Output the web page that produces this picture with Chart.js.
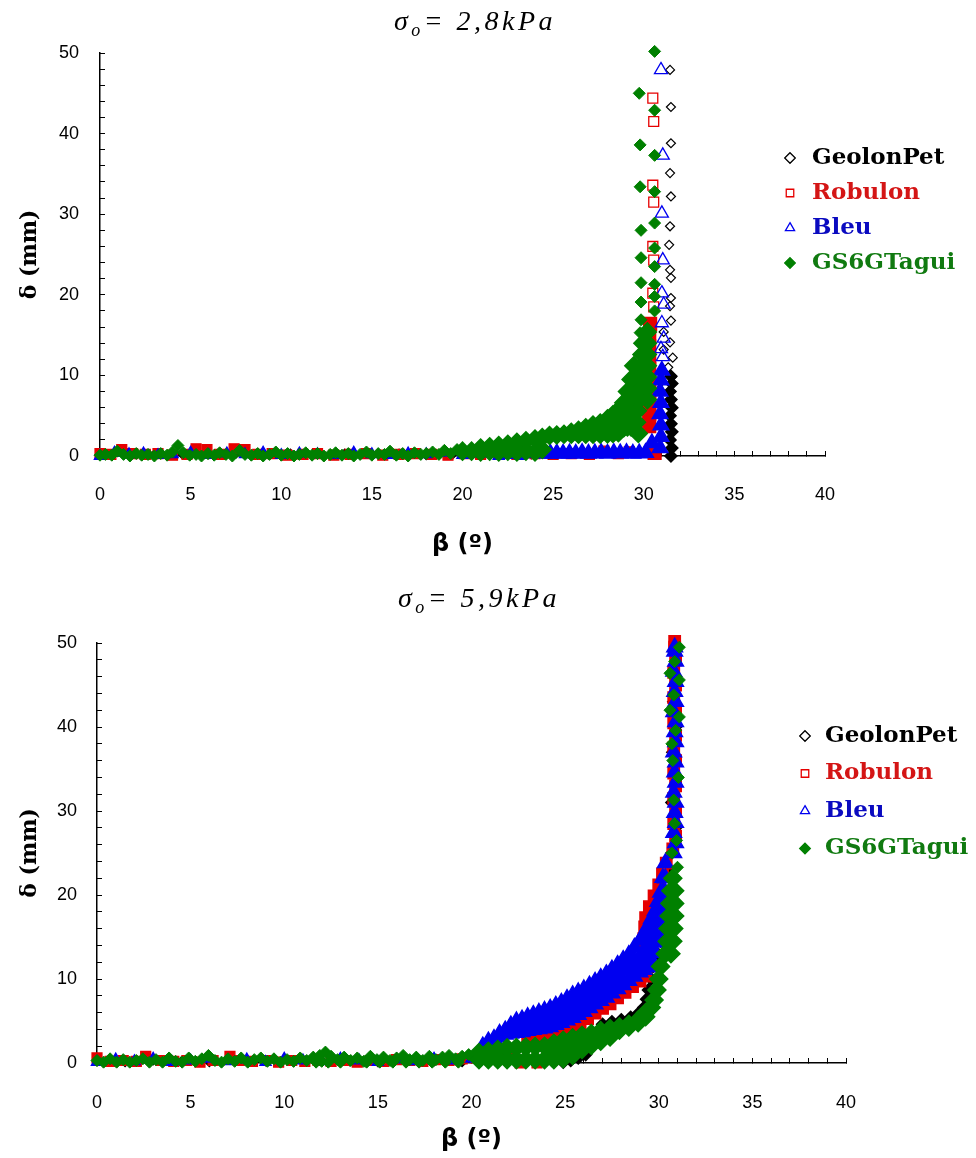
<!DOCTYPE html>
<html>
<head>
<meta charset="utf-8">
<title>delta vs beta</title>
<script src="https://cdn.jsdelivr.net/npm/chart.js@4.4.1/dist/chart.umd.min.js"></script>
<style>
  html, body { margin:0; padding:0; background:#ffffff; }
  body { position:relative; width:976px; height:1158px; overflow:hidden; }
  canvas { position:absolute; left:0; }
  .ttl { position:absolute; left:0; z-index:2; white-space:nowrap; text-align:center; color:#000;
         font-family:'Liberation Serif','Times New Roman',serif; font-style:italic; font-size:28px;
         line-height:28px; letter-spacing:3.5px; }
  .ttl sub { font-size:18px; line-height:0; vertical-align:-6px; }
</style>
</head>
<body>
<canvas id="chartTop" width="976" height="580" style="top:0"></canvas>
<canvas id="chartBottom" width="976" height="578" style="top:580px"></canvas>
<div class="ttl" style="top:7px; width:950px;">σ<sub>o</sub>= 2,8kPa</div>
<div class="ttl" style="top:584px; width:958px;">σ<sub>o</sub>= 5,9kPa</div>
<script>
// ---------------- tick labels / series ----------------
const betaTickLabels = [0, 5, 10, 15, 20, 25, 30, 35, 40];
const deltaTickLabels = [0, 10, 20, 30, 40, 50];
const seriesNames = ['GeolonPet', 'Robulon', 'Bleu', 'GS6GTagui'];

// ---------------- sigma = 2.8 kPa : [beta, delta] ----------------
const geolonTopBase = [[0,0.1],[1.5,0.3],[3,0.2],[4.5,0.3],[6,0.2],[7.5,0.3],[9,0.1],[10.5,0.3],[12,0.2],[13.5,0.3],[15,0.2],[16.5,0.3],[18,0.1],[19.5,0.3],[21,0.2],[22.5,0.3],[23.8,0.2]];
const geolonTopDense = [[31.5,0.0],[31.55,1.0],[31.45,2.0],[31.55,3.0],[31.5,4.0],[31.45,5.0],[31.55,6.0],[31.5,7.0],[31.45,8.0],[31.55,9.0],[31.5,9.9]];
const geolonTopOpen = [[31.2,8.6],[31.55,9.8],[31.35,11.0],[31.6,12.2],[31.1,13.2],[31.45,14.1],[31.1,15.4],[31.5,16.8],[31.45,18.6],[31.5,19.6],[31.5,22.1],[31.45,23.1],[31.4,26.2],[31.45,28.5],[31.5,32.2],[31.45,35.1],[31.5,38.8],[31.5,43.3],[31.45,47.9]];

const robulonTopBase = [[0,0.3],[0.6,0.2],[1.2,0.8],[1.8,0.3],[2.5,0.2],[3.2,0.3],[4.0,0.1],[4.8,0.2],[5.3,0.9],[5.9,0.8],[6.6,0.2],[7.4,0.9],[8.0,0.8],[8.7,0.2],[9.5,0.3],[10.3,0.1],[11.2,0.2],[12.0,0.3],[12.9,0.1],[13.8,0.2],[14.7,0.3],[15.6,0.1],[16.5,0.2],[17.4,0.3],[18.3,0.2],[19.2,0.1],[20.1,0.3],[21.0,0.2],[22.0,0.3],[23.0,0.2],[24.0,0.3],[25.0,0.2],[26.0,0.3],[27.0,0.2],[27.8,0.6],[28.6,0.3],[29.2,0.5]];
const robulonTopDense = [[30.6,0.4],[30.3,3.7],[30.3,5.2],[30.3,6.6],[30.3,8.0],[30.3,9.4],[30.3,10.8],[30.3,12.2],[30.3,13.6],[30.3,15.0],[30.35,16.4]];
const robulonTopOpen = [[30.55,18.5],[30.5,20.2],[30.55,24.3],[30.5,26.0],[30.55,31.5],[30.5,33.6],[30.55,41.5],[30.5,44.4]];

const bleuTopBase = [[0,0.0],[0.8,0.4],[1.6,0.2],[2.4,0.3],[3.2,0.1],[4.0,0.2],[5.0,0.4],[6.0,0.1],[7.0,0.3],[8.0,0.2],[9.0,0.4],[10.0,0.1],[11.0,0.3],[12.0,0.2],[13.0,0.1],[14.0,0.4],[15.0,0.2],[16.0,0.1],[17.0,0.3],[18.0,0.2],[19.0,0.4],[20.0,0.1],[21.0,0.3],[22.0,0.0],[22.6,0.1],[23.2,0.0],[23.8,0.2]];
const bleuTopDense = [[24.5,0.3],[24.85,0.3],[25.2,0.35],[25.55,0.3],[25.9,0.35],[26.25,0.3],[26.6,0.4],[26.95,0.3],[27.3,0.35],[27.65,0.4],[28.0,0.3],[28.35,0.4],[28.7,0.35],[29.05,0.4],[29.4,0.3],[29.75,0.35],[30.1,0.4],
  [30.45,1.6],[30.9,1.0],[30.95,2.4],[30.95,3.8],[30.9,5.2],[30.95,6.6],[30.9,8.0],[30.95,9.4],[31.0,10.6]];
const bleuTopOpen = [[31.05,12.3],[30.95,13.3],[31.1,14.6],[31.0,16.5],[31.1,18.8],[31.0,20.2],[31.05,24.3],[31.0,30.1],[31.05,37.3],[30.95,47.9]];

const gs6TopBase = [[0,0.1],[0.3,0.2],[0.65,0.1],[0.95,0.6],[1.3,0.2],[1.65,0.0],[2.0,0.3],[2.3,0.1],[2.65,0.2],[3.0,0.0],[3.35,0.3],[3.7,0.1],[4.0,0.5],[4.3,1.3],[4.6,0.4],[4.95,0.1],[5.3,0.2],[5.6,0.0],[5.95,0.3],[6.3,0.1],[6.6,0.4],[6.95,0.2],[7.3,0.0],[7.7,0.7],[8.0,0.2],[8.35,0.1],[8.7,0.3],[9.0,0.0],[9.35,0.2],[9.7,0.5],[10.0,0.1],[10.35,0.3],[10.7,0.0],[11.0,0.2],[11.35,0.4],[11.7,0.1],[12.0,0.3],[12.35,0.0],[12.7,0.2],[13.0,0.4],[13.35,0.1],[13.7,0.3],[14.0,0.0],[14.35,0.2],[14.7,0.5],[15.0,0.1],[15.35,0.3],[15.7,0.2],[16.0,0.6],[16.35,0.1],[16.7,0.3],[17.0,0.0],[17.35,0.4],[17.7,0.2],[18.0,0.3],[18.35,0.5],[18.7,0.2],[19.0,0.7],[19.35,0.3],[19.7,0.8]];
const gs6TopDense = [[20.0,0.6],[20.5,0.6],[21.0,0.5],[21.0,1.0],[21.5,0.6],[21.5,1.15],[22.0,0.5],[22.0,1.3],[22.5,0.6],[22.5,1.45],[23.0,0.5],[23.0,1.7],[23.5,0.6],[23.5,1.9],[24.0,0.5],[24.0,2.1],[24.4,0.8],[24.4,2.3],
  [24.8,2.55],[25.2,2.6],[25.6,2.7],[26.0,2.7],[26.0,2.95],[26.4,2.7],[26.4,3.2],[26.8,2.7],[26.8,3.5],[27.2,2.7],[27.2,3.35],[27.2,3.85],[27.6,2.7],[27.6,3.4],[27.6,4.1],[28.0,2.75],[28.0,3.8],[28.0,4.6],[28.3,2.8],[28.3,4.0],[28.3,5.1],[28.6,2.9],[28.6,4.3],[28.6,5.7],[28.9,3.5],[28.9,5.0],[28.9,6.6],[29.1,3.6],[29.1,5.2],[29.1,6.8],[29.1,8.0],[29.3,3.6],[29.3,5.5],[29.3,7.5],[29.3,9.5],[29.45,11.2],
  [29.7,2.8],[29.6,4.2],[29.65,5.6],[29.75,7.0],[30.2,7.0],[29.8,8.4],[30.2,8.4],[29.85,9.8],[30.2,9.8],[29.9,11.2],[30.2,11.2],[29.9,12.6],[30.2,12.6],[29.95,14.0],[30.2,14.0],[30.2,15.4]];
const gs6TopTail = [[29.8,15.3],[29.85,16.9],[30.6,18.0],[29.85,19.1],[30.6,19.8],[29.85,21.5],[30.6,21.3],[30.6,23.5],[29.85,24.6],[30.6,25.8],[29.85,28.0],[30.6,28.9],[30.6,32.8],[29.8,33.4],[30.6,37.3],[29.8,38.6],[30.6,42.9],[29.75,45.0],[30.6,50.2]];

// ---------------- sigma = 5.9 kPa : [beta, delta] ----------------
const geolonBotBase = [[0,0.2],[1.5,0.1],[3,0.3],[4.5,0.2],[6,0.1],[7.5,0.3],[9,0.2],[10.5,0.1],[12,0.3],[13.5,0.2],[15,0.1],[16.5,0.3],[18,0.2],[19.5,0.1],[21,0.3],[22.5,0.2],[23.5,0.1],[24.3,0.1]];
const geolonBotDense = [[24.9,0.1],[25.3,0.3],[25.7,0.6],[26.1,1.0],[26.6,2.6],[27.0,4.6],[27.5,4.9],[28.0,5.15],[28.5,5.45],[28.9,5.9],[29.2,6.6],[29.35,7.6],[29.45,8.7],[29.6,10.0],[29.7,11.5],[29.95,13.0],[30.1,14.5],[30.2,16.0],[30.4,19.0],[30.6,22.5],[30.7,25],[30.9,28],[30.7,31],[30.9,34],[30.75,37],[30.9,40],[30.8,43],[30.9,46],[30.8,49]];

const robulonBotBase = [[0,0.6],[0.7,0.2],[1.4,0.3],[2.1,0.2],[2.6,0.8],[3.4,0.3],[4.1,0.2],[4.8,0.3],[5.5,0.1],[6.2,0.3],[7.1,0.8],[7.6,0.3],[8.3,0.2],[9.0,0.3],[9.7,0.1],[10.4,0.3],[11.1,0.2],[11.8,0.3],[12.5,0.2],[13.2,0.3],[13.9,0.1],[14.6,0.3],[15.3,0.2],[16.0,0.4],[16.7,0.3],[17.4,0.2],[18.1,0.4],[18.8,0.3],[19.5,0.5],[20.2,0.6],[20.9,0.9],[21.6,1.2],[22.2,1.5],[22.6,0.0],[23.5,0.0]];
const robulonBotDense = [[23.0,2.8],[23.4,2.95],[23.8,3.1],[24.2,3.25],[24.6,3.55],[25.0,3.95],[25.4,4.35],[25.8,4.8],[26.2,5.3],[26.6,5.95],[27.0,6.5],[27.4,7.05],[27.8,7.75],[28.2,8.4],[28.6,9.1],[29.0,9.75],[29.3,10.35],
  [29.3,11.8],[29.25,13.3],[29.2,14.8],[29.25,16.2],[29.3,17.3],[29.5,18.6],[29.75,19.9],[30.0,21.2],[30.2,22.5],[30.4,23.8],
  [30.75,25.5],[30.9,27.0],[30.8,28.5],[30.9,30.0],[30.8,31.5],[30.9,33.0],[30.8,34.5],[30.9,36.0],[30.8,37.5],[30.9,39.0],[30.8,40.5],[30.9,42.0],[30.8,43.5],[30.9,45.0],[30.8,46.5],[30.9,48.0],[30.85,49.5],[30.85,50.2]];

const bleuBotBase = [[0,0.1],[1,0.4],[2,0.2],[3,0.5],[4,0.1],[5,0.3],[6,0.5],[7,0.2],[8,0.4],[9,0.1],[10,0.5],[11,0.3],[12,0.2],[13,0.5],[14,0.3],[15,0.1],[16,0.4],[17,0.2],[18,0.5],[19,0.3],[20,0.5]];
const bleuBotDense = [[20.6,2.0],[20.9,2.3],[20.9,2.6],[21.2,2.9],[21.5,3.1],[21.5,3.5],[21.8,3.4],[21.8,3.9],[22.1,3.5],[22.1,4.2],[22.1,4.5],[22.4,3.6],[22.4,5.0],[22.7,3.7],[22.7,4.4],[22.7,5.2],
  [23.0,3.85],[23.0,4.7],[23.0,5.5],[23.3,3.95],[23.3,4.6],[23.3,5.3],[23.3,5.75],[23.6,4.05],[23.6,5.0],[23.6,6.0],[23.9,4.15],[23.9,4.75],[23.9,5.5],[23.9,6.25],
  [24.2,4.3],[24.2,5.4],[24.2,6.5],[24.5,4.55],[24.5,5.15],[24.5,5.95],[24.5,6.85],[24.8,4.8],[24.8,6.0],[24.8,7.2],[25.1,5.1],[25.1,5.7],[25.1,6.6],[25.1,7.65],
  [25.4,5.4],[25.4,6.75],[25.4,8.1],[25.7,5.75],[25.7,6.4],[25.7,7.3],[25.7,8.45],[26.0,6.1],[26.0,7.45],[26.0,8.8],[26.3,6.55],[26.3,7.1],[26.3,8.1],[26.3,9.25],
  [26.6,7.0],[26.6,8.35],[26.6,9.7],[26.9,7.4],[26.9,8.0],[26.9,9.0],[26.9,10.15],[27.2,7.8],[27.2,9.2],[27.2,10.6],[27.5,8.3],[27.5,8.9],[27.5,9.95],[27.5,11.15],
  [27.8,8.8],[27.8,10.25],[27.8,11.7],[28.1,9.3],[28.1,9.95],[28.1,11.05],[28.1,12.3],[28.4,9.8],[28.4,11.35],[28.4,12.9],[28.7,10.3],[28.7,11.0],[28.7,12.3],[28.7,13.75],
  [29.0,10.8],[29.0,12.7],[29.0,14.6],[29.2,11.1],[29.2,11.85],[29.2,13.35],[29.2,15.4],[29.4,11.4],[29.4,13.0],[29.4,14.6],[29.4,16.2],[29.6,12.25],[29.6,13.9],[29.6,15.5],[29.6,17.15],
  [29.8,13.1],[29.8,14.8],[29.8,16.5],[29.8,18.1],[29.95,14.35],[29.95,16.0],[29.95,17.6],[29.95,19.2],[30.1,15.6],[30.1,17.2],[30.1,18.8],[30.1,20.3],
  [30.22,17.1],[30.22,18.75],[30.22,20.4],[30.22,22.05],[30.35,18.6],[30.35,20.3],[30.35,22.0],[30.35,23.8],
  [30.8,25.0],[30.9,26.2],[30.8,27.4],[30.9,28.6],[30.85,29.8],[30.9,31.0],[30.8,32.2],[30.9,33.4],[30.85,34.6],[30.9,35.8],[30.8,37.0],[30.9,38.2],[30.85,39.4],[30.9,40.6],[30.8,41.8],[30.9,43.0],[30.85,44.2],[30.9,45.4],[30.8,46.6],[30.9,47.8],[30.85,49.0],[30.85,49.5]];

const gs6BotBase = [[0,0.3],[0.35,0.1],[0.7,0.5],[1.05,0.1],[1.4,0.4],[1.75,0.1],[2.1,0.3],[2.45,0.5],[2.8,0.1],[3.15,0.4],[3.5,0.1],[3.85,0.6],[4.2,0.2],[4.55,0.1],[4.9,0.6],[5.25,0.2],[5.6,0.5],[5.95,0.9],[6.3,0.3],[6.65,0.1],[7.0,0.5],[7.35,0.2],[7.7,0.6],[8.05,0.1],[8.4,0.4],[8.75,0.6],[9.1,0.2],[9.45,0.5],[9.8,0.1],[10.15,0.4],[10.5,0.2],[10.85,0.6],[11.2,0.3],[11.55,0.7],[11.7,0.1],[11.9,0.9],[12.0,0.2],[12.2,1.3],[12.35,0.1],[12.5,0.8],[12.85,0.4],[13.0,0.1],[13.2,0.7],[13.55,0.3],[13.9,0.6],[14.25,0.2],[14.4,0.1],[14.6,0.8],[14.95,0.4],[15.1,0.1],[15.3,0.7],[15.65,0.3],[15.8,0.1],[16.0,0.6],[16.35,0.9],[16.5,0.1],[16.7,0.4],[17.05,0.7],[17.2,0.1],[17.4,0.3],[17.75,0.8],[17.9,0.1],[18.1,0.4],[18.45,0.7],[18.6,0.1],[18.8,0.9],[19.15,0.5],[19.3,0.1],[19.5,0.8],[19.85,1.0]];
const gs6BotDense = [[20.4,0.4],[20.4,1.25],[20.9,0.4],[20.9,1.4],[21.4,0.4],[21.4,1.6],[21.9,0.4],[21.9,1.8],[22.4,0.4],[22.4,1.85],[22.9,0.4],[22.9,1.9],[23.4,0.4],[23.4,1.95],[23.9,0.4],[23.9,2.0],
  [24.4,0.4],[24.4,1.4],[24.4,2.35],[24.9,0.5],[24.9,1.6],[24.9,2.7],[25.4,0.9],[25.4,2.0],[25.4,3.0],[25.9,1.6],[25.9,2.5],[25.9,3.3],[26.4,2.1],[26.4,3.0],[26.4,3.5],[26.9,2.6],[26.9,3.3],[26.9,3.85],
  [27.4,3.1],[27.4,3.7],[27.4,4.1],[27.9,3.9],[27.9,4.3],[28.4,4.3],[28.4,4.6],[28.9,4.8],[28.9,5.1],[29.3,5.5],[29.3,6.0],[29.6,6.6],
  [29.75,7.5],[29.9,8.7],[30.0,10.0],[30.1,11.5],[30.35,13.0],[30.65,13.0],[30.45,14.5],[30.75,14.5],[30.5,16.0],[30.8,16.0],[30.55,17.5],[30.85,17.5],[30.6,19.0],[30.85,19.0],[30.65,20.5],[30.85,20.5],[30.75,22.0]];
const gs6BotTail = [[31.0,23.3],[30.7,25.0],[30.95,26.5],[30.85,28.5],[30.8,31.3],[31.05,34.0],[30.75,36.0],[30.7,38.0],[30.9,39.6],[31.1,41.2],[30.6,42.0],[30.8,43.8],[31.1,45.6],[30.6,46.4],[30.85,47.8],[31.1,49.5]];

// ---------------- styles ----------------
const seriesStyle = [
  { color:'#000000', text:'#000000', shape:'rectRot',  bw:1.2, order:3, legendFill:'rgba(255,255,255,0)' },
  { color:'#e60000', text:'#d41515', shape:'rect',     bw:1.3, order:2, legendFill:'rgba(255,255,255,0)' },
  { color:'#0000f0', text:'#0a0ac0', shape:'triangle', bw:1.3, order:1, legendFill:'rgba(255,255,255,0)' },
  { color:'#008000', text:'#107a10', shape:'rectRot',  bw:1.0, order:0, legendFill:'#008000' }
];
const markerRadius = [4.5, 7, 7.5, 6];
const denseBorder = 1.5;

function makeDataset(i, parts, denseRadius) {
  const s = seriesStyle[i];
  const data = [], bg = [], bw = [], rad = [];
  parts.forEach(([pts, kind]) => {
    pts.forEach(([b, d]) => {
      data.push({ x: b, y: d });
      bg.push(kind === 'open' ? 'rgba(255,255,255,0)' : s.color);
      bw.push(kind === 'dense' ? denseBorder : s.bw);
      rad.push(kind === 'dense' ? denseRadius[i] : (kind === 'base' && i === 2 ? 6.5 : markerRadius[i]));
    });
  });
  return {
    label: seriesNames[i], data,
    pointStyle: s.shape, pointRadius: rad, pointHoverRadius: rad,
    pointBackgroundColor: bg, pointBorderColor: s.color, pointBorderWidth: bw,
    borderColor: s.color, backgroundColor: s.color,
    showLine: false, clip: false, order: s.order
  };
}

const legendPlacer = {
  id: 'legendPlacer',
  afterLayout(chart, args, opts) {
    const lg = chart.legend;
    if (!lg) return;
    const w = lg.width, h = lg.height;
    lg.left = opts.left; lg.top = opts.top;
    lg.right = opts.left + w; lg.bottom = opts.top + h;
  }
};

function makeChart(id, datasets, g) {
  return new Chart(document.getElementById(id), {
    type: 'scatter',
    data: { datasets },
    plugins: [legendPlacer],
    options: {
      responsive: false, animation: false, devicePixelRatio: 1, events: [],
      layout: { padding: { left: 0, top: g.padTop, right: g.padRight, bottom: 0 } },
      plugins: {
        tooltip: { enabled: false },
        title: { display: false },
        legendPlacer: { left: g.legLeft, top: g.legTop },
        legend: {
          display: true, position: 'chartArea', align: 'start',
          labels: {
            usePointStyle: true, boxWidth: g.legBoxW, boxHeight: 7.5, padding: g.legPad,
            font: { family: 'DejaVu Serif', size: 23, weight: 'bold' },
            generateLabels: () => seriesNames.map((n, i) => ({
              text: n, fillStyle: seriesStyle[i].legendFill, strokeStyle: seriesStyle[i].color,
              lineWidth: 1.3, pointStyle: seriesStyle[i].shape, rotation: 0,
              fontColor: seriesStyle[i].text, hidden: false, datasetIndex: i
            }))
          }
        }
      },
      scales: {
        x: {
          type: 'linear', min: 0, max: 40,
          afterFit: (s) => { s.height = g.xHeight; },
          border: { display: true, color: '#000', width: 1.5 },
          grid: { display: true, drawOnChartArea: false, drawTicks: true, tickLength: -5, color: '#000', tickColor: '#000', tickWidth: 1 },
          ticks: {
            stepSize: 1, autoSkip: false, maxRotation: 0, minRotation: 0, maxTicksLimit: 100,
            padding: g.xTickPad, color: '#000', font: { family: 'Liberation Sans', size: 18 },
            callback: (v) => betaTickLabels.includes(v) ? String(v) : ''
          },
          title: { display: true, text: 'β (º)', color: '#000',
                   font: { family: 'DejaVu Sans', size: 24, weight: 'bold' },
                   padding: { top: 0, bottom: g.xTitlePad } }
        },
        y: {
          type: 'linear', min: 0, max: 50,
          afterFit: (s) => { s.width = g.yWidth; },
          border: { display: true, color: '#000', width: 1.5 },
          grid: { display: true, drawOnChartArea: false, drawTicks: true, tickLength: -5, color: '#000', tickColor: '#000', tickWidth: 1 },
          ticks: {
            stepSize: 2, autoSkip: false, maxTicksLimit: 100,
            padding: g.yTickPad, color: '#000', font: { family: 'Liberation Sans', size: 18 },
            callback: (v) => deltaTickLabels.includes(v) ? String(v) : ''
          },
          title: { display: true, text: 'δ (mm)', color: '#000',
                   font: { family: 'DejaVu Serif', size: 22, weight: 'bold' },
                   padding: { top: 16.8, bottom: 0 } }
        }
      }
    }
  });
}

const topDense = [6, 9, 9, 9];
const bottomDense = [6, 8, 9, 9];

const topDatasets = [
  makeDataset(0, [[geolonTopBase,'base'],[geolonTopDense,'dense'],[geolonTopOpen,'open']], topDense),
  makeDataset(1, [[robulonTopBase,'base'],[robulonTopDense,'dense'],[robulonTopOpen,'open']], topDense),
  makeDataset(2, [[bleuTopBase,'base'],[bleuTopDense,'dense'],[bleuTopOpen,'open']], topDense),
  makeDataset(3, [[gs6TopBase,'base'],[gs6TopDense,'dense'],[gs6TopTail,'base']], topDense)
];
const bottomDatasets = [
  makeDataset(0, [[geolonBotBase,'base'],[geolonBotDense,'dense']], bottomDense),
  makeDataset(1, [[robulonBotBase,'base'],[robulonBotDense,'dense']], bottomDense),
  makeDataset(2, [[bleuBotBase,'base'],[bleuBotDense,'dense']], bottomDense),
  makeDataset(3, [[gs6BotBase,'base'],[gs6BotDense,'dense'],[gs6BotTail,'base']], bottomDense)
];

makeChart('chartTop', topDatasets, {
  padTop: 53, padRight: 151, yWidth: 100, xHeight: 124,
  yTickPad: 26, xTickPad: 33, xTitlePad: 20.6,
  legLeft: 767.5, legTop: 134.5, legPad: 12, legBoxW: 21
});
makeChart('chartBottom', bottomDatasets, {
  padTop: 63, padRight: 130, yWidth: 97, xHeight: 95,
  yTickPad: 25, xTickPad: 34, xTitlePad: 3.6,
  legLeft: 782, legTop: 130, legPad: 14.5, legBoxW: 17
});
</script>
</body>
</html>
